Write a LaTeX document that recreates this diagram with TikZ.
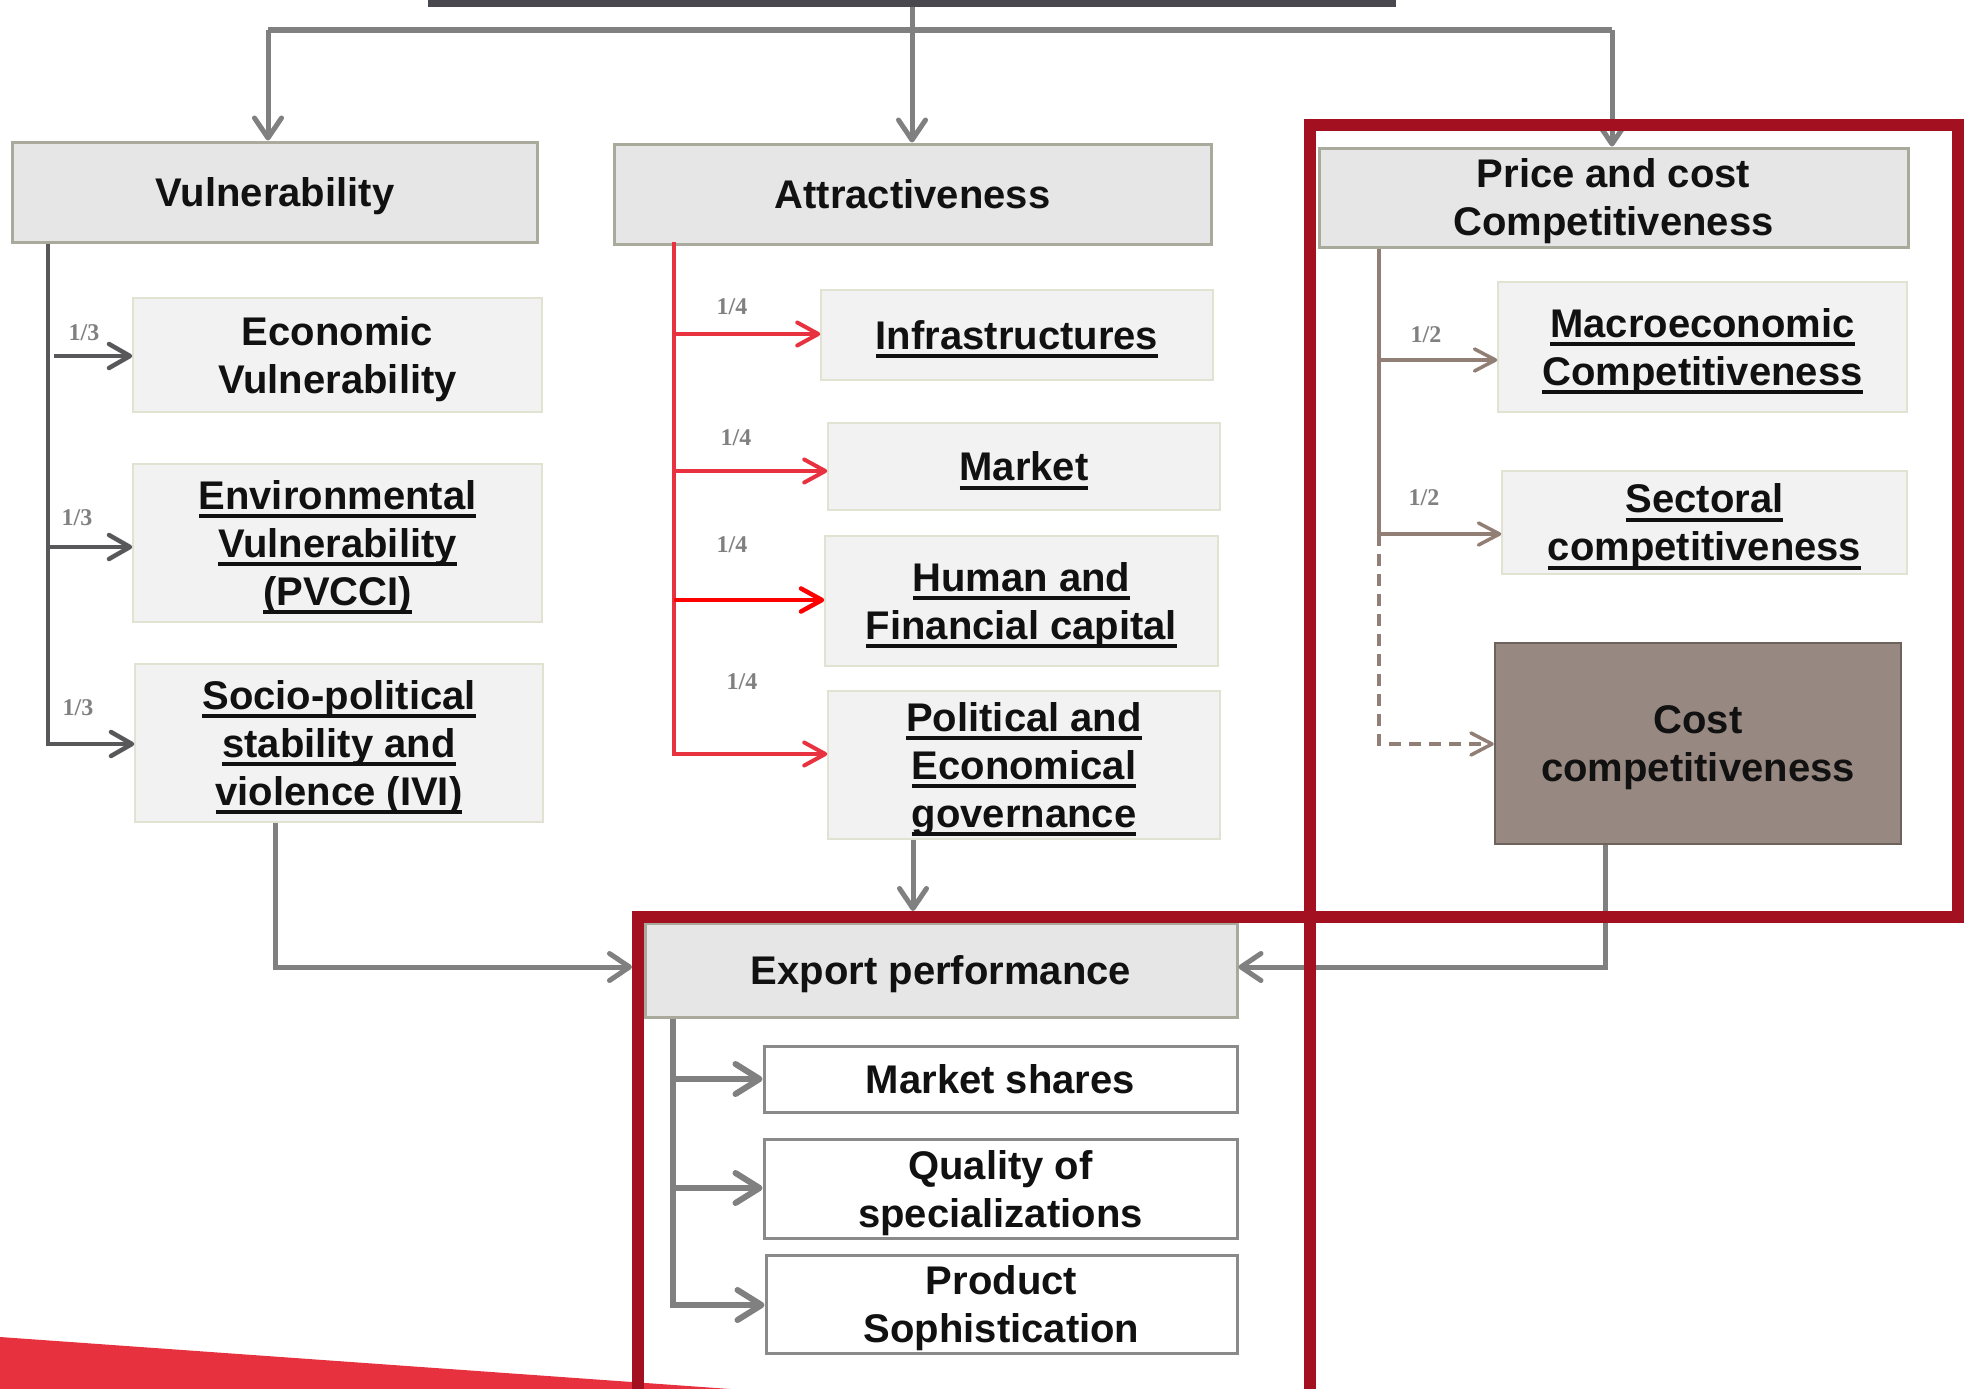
\documentclass[tikz,border=0pt]{standalone}
\usepackage{fontspec}
\setmainfont{Liberation Sans}
\newfontfamily\lblfont{Liberation Serif}
\usetikzlibrary{arrows.meta}
\definecolor{hdrfill}{HTML}{E6E6E6}
\definecolor{hdrborder}{HTML}{A9AA9C}
\definecolor{subfill}{HTML}{F2F2F2}
\definecolor{subborder}{HTML}{E1E2D2}
\definecolor{gline}{HTML}{808080}
\definecolor{dline}{HTML}{58585A}
\definecolor{rline}{HTML}{E8323F}
\definecolor{rstrong}{HTML}{FF0000}
\definecolor{bline}{HTML}{917E75}
\definecolor{costfill}{HTML}{978981}
\definecolor{costborder}{HTML}{6E625C}
\definecolor{framered}{HTML}{A3101F}
\definecolor{topbar}{HTML}{4A484F}
\definecolor{exborder}{HTML}{8A8A8A}
\definecolor{swoosh}{HTML}{E8313F}
\definecolor{lblgray}{HTML}{808080}
\definecolor{txt}{HTML}{111111}
\newcommand\ulx[1]{\leavevmode\setbox0=\hbox{#1}\rlap{\rule[-9pt]{\wd0}{4pt}}\box0}
\begin{document}
\begin{tikzpicture}[x=1pt,y=-1pt,
  txtfont/.style={font=\bfseries\fontsize{40}{48}\selectfont, text=txt, align=center, inner sep=0pt, text depth=0pt},
  hdr/.style={txtfont, draw=hdrborder, line width=3pt, fill=hdrfill},
  subbox/.style={txtfont, draw=subborder, line width=1.5pt, fill=subfill},
  exsub/.style={txtfont, draw=exborder, line width=3pt, fill=white},
  costbox/.style={txtfont, draw=costborder, line width=2.5pt, fill=costfill},
  lbl/.style={font=\lblfont\bfseries\fontsize{24}{24}\selectfont, text=lblgray, inner sep=0pt},
  tipg/.style={-{Straight Barb[length=20pt,width=27pt,round]}},
  garrow/.style={tipg, draw=gline, line width=5pt},
  darrow/.style={-{Straight Barb[length=21pt,width=24pt,round]}, draw=dline, line width=4.5pt},
  rarrow/.style={-{Straight Barb[length=21pt,width=23pt,round]}, draw=rline, line width=4pt},
  barrow/.style={-{Straight Barb[length=21pt,width=22pt,round]}, draw=bline, line width=3.5pt},
  earrow/.style={-{Straight Barb[length=24pt,width=30pt,round]}, draw=gline, line width=6pt},
  frame/.style={draw=framered, line width=12.5pt}
]
\useasboundingbox (0,0) rectangle (1966,1389);
\fill[white] (0,0) rectangle (1966,1389);
% decorative swoosh
\fill[swoosh] (0,1337) -- (730,1389) -- (0,1389) -- cycle;

% top bar
\node[fill=topbar, minimum width=968pt, minimum height=20pt, inner sep=0pt] (top) at (912,-3) {};

% header boxes
\node[hdr, minimum width=525pt, minimum height=100pt] (vul) at (275,192) {Vulnerability};
\node[hdr, minimum width=597pt, minimum height=100pt] (attr) at (912.5,194) {Attractiveness};
\node[hdr, minimum width=589pt, minimum height=99pt] (price) at (1613.5,197.5) {Price and cost\\Competitiveness};

% vulnerability sub boxes
\node[subbox, minimum width=409pt, minimum height=114pt] (eco) at (337.5,355) {Economic\\Vulnerability};
\node[subbox, minimum width=409pt, minimum height=158pt] (env) at (337.5,543) {\ulx{Environmental}\\\ulx{Vulnerability}\\\ulx{(PVCCI)}};
\node[subbox, minimum width=408pt, minimum height=158pt] (soc) at (339,743) {\ulx{Socio-political}\\\ulx{stability and}\\\ulx{violence (IVI)}};

% attractiveness sub boxes
\node[subbox, minimum width=392pt, minimum height=90pt] (inf) at (1017,335) {\ulx{Infrastructures}};
\node[subbox, minimum width=392pt, minimum height=87pt] (mkt) at (1024,466.5) {\ulx{Market}};
\node[subbox, minimum width=393pt, minimum height=130pt] (hum) at (1021.5,601) {\ulx{Human and}\\\ulx{Financial capital}};
\node[subbox, minimum width=392pt, minimum height=148pt] (pol) at (1024,765) {\ulx{Political and}\\\ulx{Economical}\\\ulx{governance}};

% price sub boxes
\node[subbox, minimum width=409pt, minimum height=130pt] (mac) at (1702.5,347) {\ulx{Macroeconomic}\\\ulx{Competitiveness}};
\node[subbox, minimum width=405pt, minimum height=103pt] (sec) at (1704.5,522.5) {\ulx{Sectoral}\\\ulx{competitiveness}};
\node[costbox, minimum width=406pt, minimum height=201pt] (cost) at (1698,743.5) {Cost\\competitiveness};

% export
\node[hdr, minimum width=592pt, minimum height=94pt] (export) at (941,970) {Export performance};
\node[exsub, minimum width=473pt, minimum height=66pt] (ms) at (1000.5,1079) {Market shares};
\node[exsub, minimum width=473pt, minimum height=99pt] (qs) at (1000.5,1188.5) {Quality of\\specializations};
\node[exsub, minimum width=471pt, minimum height=98pt] (ps) at (1001.5,1304) {Product\\Sophistication};

% weight labels
\node[lbl] (l31) at (84,333) {1/3};
\node[lbl] (l32) at (77,518) {1/3};
\node[lbl] (l33) at (78,708) {1/3};
\node[lbl] (l41) at (732,307) {1/4};
\node[lbl] (l42) at (736,438) {1/4};
\node[lbl] (l43) at (732,545) {1/4};
\node[lbl] (l44) at (742,682) {1/4};
\node[lbl] (l21) at (1426,335) {1/2};
\node[lbl] (l22) at (1424,498) {1/2};

% top distribution
\coordinate (hl) at (268,30);
\coordinate (hr) at (1612,30);
\draw[draw=gline, line width=6pt] (hl) -- (hr);
\draw[garrow] (top.south) -- (top.south |- attr.north);
\draw[garrow] (hl) -- (hl |- vul.north);
\draw[garrow] (hr) -- (hr |- price.north);

% vulnerability tree
\coordinate (v1) at (54,356);
\coordinate (v2) at (48,547);
\coordinate (v3) at (48,744);
\draw[darrow] (vul.south -| v3) -- (v3) -- (v3 -| soc.west);
\draw[darrow] (v1) -- (v1 -| eco.west);
\draw[darrow] (v2) -- (v2 -| env.west);

% attractiveness tree
\coordinate (a1) at (674,334);
\coordinate (a2) at (674,471);
\coordinate (a3) at (674,600);
\coordinate (a4) at (674,754);
\draw[rarrow] ([yshift=4pt]attr.south -| a4) -- (a4) -- (a4 -| pol.west);
\draw[rarrow] (a1) -- (a1 -| inf.west);
\draw[rarrow] (a2) -- (a2 -| mkt.west);
\draw[rarrow, draw=rstrong, line width=4.5pt] (a3) -- (a3 -| hum.west);

% price tree
\coordinate (p1) at (1379,360);
\coordinate (p2) at (1379,534);
\coordinate (p3) at (1379,744);
\draw[barrow] (price.south -| p2) -- (p2) -- (p2 -| sec.west);
\draw[barrow] (p1) -- (p1 -| mac.west);
\draw[barrow, dash pattern=on 12pt off 8pt] (p2) -- (p3) -- (p3 -| cost.west);

% export tree
\coordinate (e1) at (673,1079);
\coordinate (e2) at (673,1188);
\coordinate (e3) at (673,1305);
\draw[earrow] (export.south -| e3) -- (e3) -- (e3 -| ps.west);
\draw[earrow] (e1) -- (e1 -| ms.west);
\draw[earrow] (e2) -- (e2 -| qs.west);

% into export performance
\coordinate (s1) at (275,967);
\coordinate (exin) at (632,967);
\draw[garrow] (soc.south -| s1) -- (s1) -- (exin);
\coordinate (pp) at (913,911);
\draw[garrow] (pol.south -| pp) -- (pp);
\coordinate (c1) at (1605,967);
\draw[garrow] (cost.south -| c1) -- (c1) -- (c1 -| export.east);

% red frames
\draw[frame] (1310,125) rectangle (1958,917);
\draw[frame] (638,917) rectangle (1310,1430);
\end{tikzpicture}
\end{document}
